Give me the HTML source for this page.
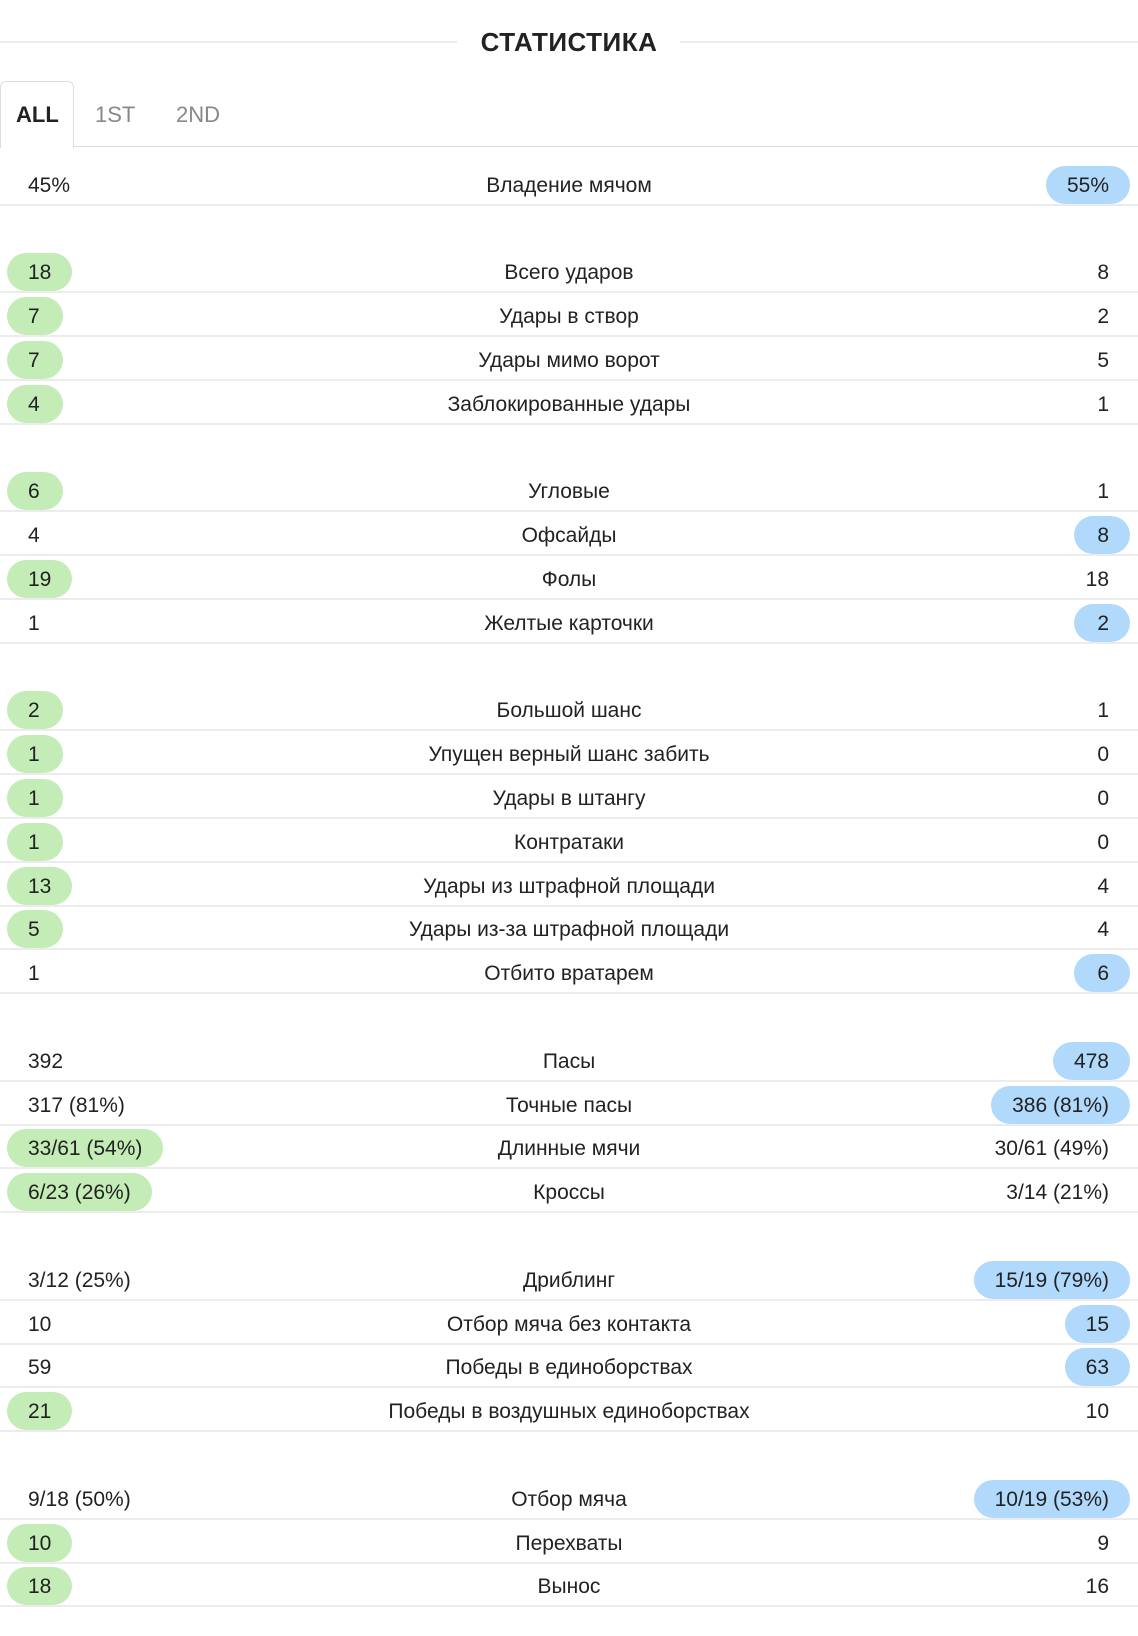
<!DOCTYPE html>
<html><head><meta charset="utf-8"><style>
html,body{margin:0;padding:0;background:#fff;}
body{width:1138px;height:1636px;position:relative;overflow:hidden;font-family:"Liberation Sans",sans-serif;color:#222;}
.hl{position:absolute;top:41px;height:2px;background:#ececec;}
#title{position:absolute;top:27px;left:0;width:1138px;text-align:center;font-size:26px;font-weight:bold;letter-spacing:0.5px;}
.tab{position:absolute;top:102px;font-size:22px;color:#888;}
#tab-all-box{position:absolute;left:0;top:81px;width:72px;height:66px;border:1px solid #ddd;border-bottom:none;border-radius:6px 6px 0 0;background:#fff;}
#tabline{position:absolute;left:73px;right:0;top:146px;height:1px;background:#ddd;}
.row{position:absolute;left:0;width:1138px;height:44px;border-bottom:2px solid #ececec;box-sizing:border-box;}
.lab{position:absolute;left:0;width:1138px;text-align:center;top:12px;font-size:21px;}
.val{position:absolute;top:4px;height:38px;line-height:40px;font-size:21px;border-radius:19px;padding:0 21px;min-width:56px;box-sizing:border-box;white-space:nowrap;}
.l{left:7px;}
.r{right:8px;text-align:right;}
.g{background:#c4ecb6;}
.b{background:#b0d9fb;}
</style></head><body>
<div class="hl" style="left:0;width:457px"></div>
<div class="hl" style="left:680px;right:0"></div>
<div id="title">СТАТИСТИКА</div>
<div id="tab-all-box"></div>
<div id="tabline"></div>
<div class="tab" style="left:16px;color:#222;font-weight:bold;">ALL</div>
<div class="tab" style="left:95px;">1ST</div>
<div class="tab" style="left:176px;">2ND</div>
<div id="rows"></div>
<script>
const labels=[["Владение мячом"],["Всего ударов","Удары в створ","Удары мимо ворот","Заблокированные удары"],["Угловые","Офсайды","Фолы","Желтые карточки"],["Большой шанс","Упущен верный шанс забить","Удары в штангу","Контратаки","Удары из штрафной площади","Удары из-за штрафной площади","Отбито вратарем"],["Пасы","Точные пасы","Длинные мячи","Кроссы"],["Дриблинг","Отбор мяча без контакта","Победы в единоборствах","Победы в воздушных единоборствах"],["Отбор мяча","Перехваты","Вынос"]];
const homeVals=[["45%"],["18","7","7","4"],["6","4","19","1"],["2","1","1","1","13","5","1"],["392","317 (81%)","33/61 (54%)","6/23 (26%)"],["3/12 (25%)","10","59","21"],["9/18 (50%)","10","18"]];
const awayVals=[["55%"],["8","2","5","1"],["1","8","18","2"],["1","0","0","0","4","4","6"],["478","386 (81%)","30/61 (49%)","3/14 (21%)"],["15/19 (79%)","15","63","10"],["10/19 (53%)","9","16"]];
const winner=[["a"],["h","h","h","h"],["h","a","h","a"],["h","h","h","h","h","h","a"],["a","a","h","h"],["a","a","a","h"],["a","h","h"]];
const container=document.getElementById('rows');
const pitch=43.8;
let slot=0;
const top0=161.7;
labels.forEach((grp,gi)=>{
  if(gi>0) slot++;
  grp.forEach((lab,ri)=>{
    const row=document.createElement('div');
    row.className='row';
    row.style.top=(top0+slot*pitch)+'px';
    
    
    const h=document.createElement('div');
    h.className='val l'+(winner[gi][ri]==='h'?' g':'');
    h.textContent=homeVals[gi][ri];
    
    
    const c=document.createElement('div');
    c.className='lab';
    c.textContent=lab;
    
    
    const a=document.createElement('div');
    a.className='val r'+(winner[gi][ri]==='a'?' b':'');
    a.textContent=awayVals[gi][ri];
    
    
    row.appendChild(h);row.appendChild(c);row.appendChild(a);
    container.appendChild(row);
    slot++;
  });
});
</script>
</body></html>
